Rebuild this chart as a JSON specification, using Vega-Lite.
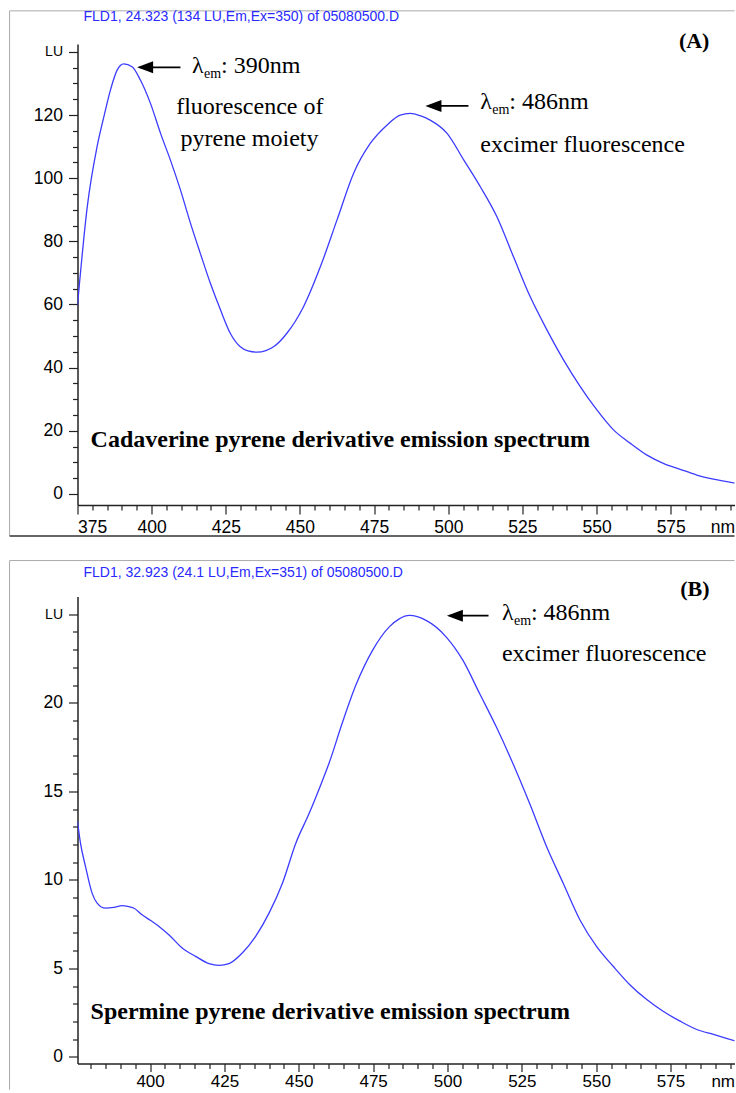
{
  "$schema": "https://vega.github.io/schema/vega-lite/v6.json",
  "padding": {"left": 8.5, "top": 10, "right": 0, "bottom": 0},
  "autosize": {"type": "pad"},
  "background": "white",
  "spacing": 22.5,
  "config": {
    "view": {"stroke": null},
    "axis": {"grid": false, "domainColor": "#222", "domainWidth": 1.5, "tickColor": "#222", "tickWidth": 1.2, "tickCount": 500,
      "labelFont": "Liberation Sans", "labelColor": "#000", "labelFontSize": 17.5,
      "titleFont": "Liberation Sans", "titleFontWeight": "normal", "titleColor": "#000", "titleFontSize": 17.5}
  },
  "datasets": {
    "A": [
      {"nm": 375, "lu": 59.8}, {"nm": 378.3, "lu": 91.0}, {"nm": 381.6, "lu": 110.0}, {"nm": 383.9, "lu": 119.5},
      {"nm": 386.1, "lu": 127.9}, {"nm": 388.4, "lu": 134.3}, {"nm": 390.6, "lu": 136.2}, {"nm": 393.4, "lu": 135.3},
      {"nm": 396.2, "lu": 131.1}, {"nm": 399.6, "lu": 123.7}, {"nm": 403.0, "lu": 114.2}, {"nm": 406.3, "lu": 105.8},
      {"nm": 409.7, "lu": 96.3}, {"nm": 413.1, "lu": 85.7}, {"nm": 416.4, "lu": 76.2}, {"nm": 419.8, "lu": 66.7},
      {"nm": 423.2, "lu": 58.3}, {"nm": 426.5, "lu": 50.9}, {"nm": 429.9, "lu": 46.6}, {"nm": 432.5, "lu": 45.3},
      {"nm": 435.5, "lu": 44.9}, {"nm": 438.5, "lu": 45.4}, {"nm": 441.1, "lu": 46.6}, {"nm": 445.6, "lu": 50.9},
      {"nm": 451.2, "lu": 59.3}, {"nm": 456.9, "lu": 72.0}, {"nm": 462.5, "lu": 86.8}, {"nm": 468.1, "lu": 101.6},
      {"nm": 473.7, "lu": 111.0}, {"nm": 479.3, "lu": 116.8}, {"nm": 483.8, "lu": 120.0}, {"nm": 487.2, "lu": 120.5},
      {"nm": 490.5, "lu": 119.8}, {"nm": 493.9, "lu": 118.4}, {"nm": 499.6, "lu": 114.2}, {"nm": 505.2, "lu": 105.8},
      {"nm": 510.8, "lu": 97.3}, {"nm": 516.4, "lu": 87.8}, {"nm": 522.0, "lu": 75.1}, {"nm": 527.6, "lu": 62.5},
      {"nm": 533.3, "lu": 51.9}, {"nm": 538.9, "lu": 42.4}, {"nm": 544.5, "lu": 34.0}, {"nm": 550.1, "lu": 26.6},
      {"nm": 555.7, "lu": 20.3}, {"nm": 561.3, "lu": 16.1}, {"nm": 567.0, "lu": 12.3}, {"nm": 572.5, "lu": 9.7},
      {"nm": 578.2, "lu": 7.8}, {"nm": 583.8, "lu": 6.0}, {"nm": 589.4, "lu": 4.7}, {"nm": 597.0, "lu": 3.4}
    ],
    "B": [
      {"nm": 375.6, "lu": 13.3}, {"nm": 376.6, "lu": 12.07}, {"nm": 378.3, "lu": 10.75}, {"nm": 380.5, "lu": 9.25},
      {"nm": 382.2, "lu": 8.69}, {"nm": 385.0, "lu": 8.4}, {"nm": 387.8, "lu": 8.44}, {"nm": 390.6, "lu": 8.54},
      {"nm": 392.5, "lu": 8.5}, {"nm": 394.5, "lu": 8.41}, {"nm": 397.3, "lu": 8.03}, {"nm": 400.2, "lu": 7.7},
      {"nm": 403.0, "lu": 7.37}, {"nm": 406.3, "lu": 6.9}, {"nm": 410.8, "lu": 6.15}, {"nm": 415.3, "lu": 5.68},
      {"nm": 419.8, "lu": 5.27}, {"nm": 423.2, "lu": 5.17}, {"nm": 426.5, "lu": 5.27}, {"nm": 431.0, "lu": 5.87},
      {"nm": 435.5, "lu": 6.81}, {"nm": 440.0, "lu": 8.12}, {"nm": 444.5, "lu": 9.81}, {"nm": 449.0, "lu": 12.07},
      {"nm": 453.5, "lu": 13.76}, {"nm": 458.0, "lu": 15.63}, {"nm": 460.2, "lu": 16.6}, {"nm": 464.7, "lu": 18.9},
      {"nm": 469.2, "lu": 21.0}, {"nm": 474.8, "lu": 22.96}, {"nm": 480.5, "lu": 24.3}, {"nm": 483.8, "lu": 24.74},
      {"nm": 487.2, "lu": 24.93}, {"nm": 492.8, "lu": 24.65}, {"nm": 499.6, "lu": 23.71}, {"nm": 505.2, "lu": 22.39},
      {"nm": 510.8, "lu": 20.52}, {"nm": 516.4, "lu": 18.64}, {"nm": 522.0, "lu": 16.57}, {"nm": 527.6, "lu": 14.32},
      {"nm": 533.3, "lu": 11.88}, {"nm": 538.9, "lu": 9.81}, {"nm": 544.5, "lu": 7.75}, {"nm": 550.1, "lu": 6.24},
      {"nm": 555.7, "lu": 5.12}, {"nm": 561.3, "lu": 4.08}, {"nm": 567.0, "lu": 3.24}, {"nm": 572.5, "lu": 2.58},
      {"nm": 578.2, "lu": 2.02}, {"nm": 583.8, "lu": 1.55}, {"nm": 589.4, "lu": 1.27}, {"nm": 597.0, "lu": 0.89}
    ]
  },
  "vconcat": [
    {
      "width": 657,
      "height": 461,
      "layer": [
        {
          "data": {"name": "A"},
          "mark": {"type": "line", "color": "#3c3cff", "strokeWidth": 1.3, "clip": true, "interpolate": "monotone"},
          "encoding": {
            "x": {"field": "nm", "type": "quantitative",
              "scale": {"domain": [375, 596.5], "nice": false, "zero": false},
              "axis": {"values": [375,380,385,390,395,400,405,410,415,420,425,430,435,440,445,450,455,460,465,470,475,480,485,490,495,500,505,510,515,520,525,530,535,540,545,550,555,560,565,570,575,580,585,590,595],
                "tickCount": 500,
                "format": "d", "labelExpr": "datum.value % 25 == 0 ? datum.label : ''",
                "tickSize": {"condition": {"test": "datum.value % 25 == 0", "value": 9}, "value": 5},
                "labelPadding": 4, "labelOverlap": false,
                "title": "nm", "titleX": 657, "titleY": 13, "titleAlign": "right", "titleBaseline": "top"}},
            "y": {"field": "lu", "type": "quantitative",
              "scale": {"domain": [-3.5, 142.5], "nice": false, "zero": false},
              "axis": {"values": [0,5,10,15,20,25,30,35,40,45,50,55,60,65,70,75,80,85,90,95,100,105,110,115,120,125,130,135,140],
                "tickCount": 500, "format": "d",
                "labelExpr": "datum.value % 20 == 0 ? (datum.value == 140 ? 'LU' : datum.label) : ''",
                "labelFontSize": {"condition": {"test": "datum.value == 140", "value": 14}, "value": 17.5},
                "tickSize": {"condition": {"test": "datum.value % 20 == 0", "value": 9}, "value": 5},
                "labelPadding": 6, "labelOverlap": false, "title": null}}
          }
        },
        {"data": {"values": [{}]}, "mark": {"type": "rule", "color": "#aaaaaa", "strokeWidth": 1},
          "encoding": {"x": {"datum": 352.1}, "x2": {"datum": 596.5}, "y": {"datum": 153.0}}},
        {"data": {"values": [{}]}, "mark": {"type": "rule", "color": "#aaaaaa", "strokeWidth": 1},
          "encoding": {"x": {"datum": 352.1}, "y": {"datum": 153.0}, "y2": {"datum": -13.3}}},
        {"data": {"values": [{}]}, "mark": {"type": "rule", "color": "#666666", "strokeWidth": 2},
          "encoding": {"x": {"datum": 352.1}, "x2": {"datum": 596.5}, "y": {"datum": -13.3}}},
        {"data": {"values": [{}]}, "mark": {"type": "text", "align": "left", "baseline": "middle", "font": "Liberation Sans", "fontSize": 14, "color": "#2a2aff", "text": "FLD1, 24.323 (134 LU,Em,Ex=350) of 05080500.D"},
          "encoding": {"x": {"datum": 377.0}, "y": {"datum": 151.0}}},
        {"data": {"values": [{}]}, "mark": {"type": "text", "align": "center", "baseline": "middle", "font": "Liberation Serif", "fontWeight": "bold", "fontSize": 22, "color": "#000", "text": "(A)"},
          "encoding": {"x": {"datum": 582.9}, "y": {"datum": 143.4}}},
        {"data": {"values": [{}]}, "mark": {"type": "rule", "color": "#000", "strokeWidth": 1.8},
          "encoding": {"x": {"datum": 396.0}, "x2": {"datum": 409.7}, "y": {"datum": 135.1}}},
        {"data": {"values": [{}]}, "mark": {"type": "point", "shape": "M0,0L2,-0.75L2,0.75Z", "size": 256, "filled": true, "color": "#000", "opacity": 1, "strokeWidth": 0},
          "encoding": {"x": {"datum": 395.1}, "y": {"datum": 135.1}}},
        {"data": {"values": [{}]}, "mark": {"type": "text", "align": "left", "baseline": "alphabetic", "font": "Liberation Serif", "fontSize": 24, "color": "#000", "text": "λ"},
          "encoding": {"x": {"datum": 413.6}, "y": {"datum": 133.3}}},
        {"data": {"values": [{}]}, "mark": {"type": "text", "align": "left", "baseline": "alphabetic", "font": "Liberation Serif", "fontSize": 14, "color": "#000", "text": "em", "dx": 12, "dy": 5},
          "encoding": {"x": {"datum": 413.6}, "y": {"datum": 133.3}}},
        {"data": {"values": [{}]}, "mark": {"type": "text", "align": "left", "baseline": "alphabetic", "font": "Liberation Serif", "fontSize": 24, "color": "#000", "text": ": 390nm", "dx": 29},
          "encoding": {"x": {"datum": 413.6}, "y": {"datum": 133.3}}},
        {"data": {"values": [{}]}, "mark": {"type": "text", "align": "center", "baseline": "alphabetic", "font": "Liberation Serif", "fontSize": 24, "color": "#000", "text": "fluorescence of"},
          "encoding": {"x": {"datum": 433.1}, "y": {"datum": 120.3}}},
        {"data": {"values": [{}]}, "mark": {"type": "text", "align": "center", "baseline": "alphabetic", "font": "Liberation Serif", "fontSize": 24, "color": "#000", "text": "pyrene moiety"},
          "encoding": {"x": {"datum": 433.0}, "y": {"datum": 110.2}}},
        {"data": {"values": [{}]}, "mark": {"type": "rule", "color": "#000", "strokeWidth": 1.8},
          "encoding": {"x": {"datum": 493.2}, "x2": {"datum": 506.8}, "y": {"datum": 122.9}}},
        {"data": {"values": [{}]}, "mark": {"type": "point", "shape": "M0,0L2,-0.75L2,0.75Z", "size": 256, "filled": true, "color": "#000", "opacity": 1, "strokeWidth": 0},
          "encoding": {"x": {"datum": 492.3}, "y": {"datum": 122.9}}},
        {"data": {"values": [{}]}, "mark": {"type": "text", "align": "left", "baseline": "alphabetic", "font": "Liberation Serif", "fontSize": 24, "color": "#000", "text": "λ"},
          "encoding": {"x": {"datum": 510.8}, "y": {"datum": 121.8}}},
        {"data": {"values": [{}]}, "mark": {"type": "text", "align": "left", "baseline": "alphabetic", "font": "Liberation Serif", "fontSize": 14, "color": "#000", "text": "em", "dx": 12, "dy": 5},
          "encoding": {"x": {"datum": 510.8}, "y": {"datum": 121.8}}},
        {"data": {"values": [{}]}, "mark": {"type": "text", "align": "left", "baseline": "alphabetic", "font": "Liberation Serif", "fontSize": 24, "color": "#000", "text": ": 486nm", "dx": 29},
          "encoding": {"x": {"datum": 510.8}, "y": {"datum": 121.8}}},
        {"data": {"values": [{}]}, "mark": {"type": "text", "align": "left", "baseline": "alphabetic", "font": "Liberation Serif", "fontSize": 24, "color": "#000", "text": "excimer fluorescence"},
          "encoding": {"x": {"datum": 510.8}, "y": {"datum": 108.4}}},
        {"data": {"values": [{}]}, "mark": {"type": "text", "align": "left", "baseline": "middle", "font": "Liberation Serif", "fontWeight": "bold", "fontSize": 24, "color": "#000", "text": "Cadaverine pyrene derivative emission spectrum"},
          "encoding": {"x": {"datum": 379.4}, "y": {"datum": 17.1}}}
      ]
    },
    {
      "width": 657,
      "height": 467,
      "layer": [
        {
          "data": {"name": "B"},
          "mark": {"type": "line", "color": "#3c3cff", "strokeWidth": 1.3, "clip": true, "interpolate": "monotone"},
          "encoding": {
            "x": {"field": "nm", "type": "quantitative",
              "scale": {"domain": [375.6, 596.5], "nice": false, "zero": false},
              "axis": {"values": [380,385,390,395,400,405,410,415,420,425,430,435,440,445,450,455,460,465,470,475,480,485,490,495,500,505,510,515,520,525,530,535,540,545,550,555,560,565,570,575,580,585,590,595],
                "tickCount": 500,
                "format": "d", "labelExpr": "datum.value % 25 == 0 ? datum.label : ''",
                "tickSize": {"condition": {"test": "datum.value % 25 == 0", "value": 8}, "value": 5},
                "labelPadding": 2, "labelFontSize": 17, "labelOverlap": false,
                "title": "nm", "titleFontSize": 17, "titleX": 657, "titleY": 10, "titleAlign": "right", "titleBaseline": "top"}},
            "y": {"field": "lu", "type": "quantitative",
              "scale": {"domain": [-0.37, 26.0], "nice": false, "zero": false},
              "axis": {"values": [0,1,2,3,4,5,6,7,8,9,10,11,12,13,14,15,16,17,18,19,20,21,22,23,24,25],
                "tickCount": 500, "format": "d",
                "labelExpr": "datum.value % 5 == 0 ? (datum.value == 25 ? 'LU' : datum.label) : ''",
                "labelFontSize": {"condition": {"test": "datum.value == 25", "value": 14}, "value": 17.5},
                "tickSize": {"condition": {"test": "datum.value % 5 == 0", "value": 9}, "value": 5},
                "labelPadding": 6, "labelOverlap": false, "title": null}}
          }
        },
        {"data": {"values": [{}]}, "mark": {"type": "rule", "color": "#aaaaaa", "strokeWidth": 1},
          "encoding": {"x": {"datum": 352.75}, "x2": {"datum": 596.5}, "y": {"datum": 28.03}}},
        {"data": {"values": [{}]}, "mark": {"type": "rule", "color": "#aaaaaa", "strokeWidth": 1},
          "encoding": {"x": {"datum": 352.75}, "y": {"datum": 28.03}, "y2": {"datum": -1.85}}},
        {"data": {"values": [{}]}, "mark": {"type": "text", "align": "left", "baseline": "middle", "font": "Liberation Sans", "fontSize": 14, "color": "#2a2aff", "text": "FLD1, 32.923 (24.1 LU,Em,Ex=351) of 05080500.D"},
          "encoding": {"x": {"datum": 377.6}, "y": {"datum": 27.3}}},
        {"data": {"values": [{}]}, "mark": {"type": "text", "align": "center", "baseline": "middle", "font": "Liberation Serif", "fontWeight": "bold", "fontSize": 22, "color": "#000", "text": "(B)"},
          "encoding": {"x": {"datum": 583.2}, "y": {"datum": 26.4}}},
        {"data": {"values": [{}]}, "mark": {"type": "rule", "color": "#000", "strokeWidth": 1.8},
          "encoding": {"x": {"datum": 500.7}, "x2": {"datum": 513.8}, "y": {"datum": 24.92}}},
        {"data": {"values": [{}]}, "mark": {"type": "point", "shape": "M0,0L2,-0.75L2,0.75Z", "size": 256, "filled": true, "color": "#000", "opacity": 1, "strokeWidth": 0},
          "encoding": {"x": {"datum": 499.8}, "y": {"datum": 24.92}}},
        {"data": {"values": [{}]}, "mark": {"type": "text", "align": "left", "baseline": "alphabetic", "font": "Liberation Serif", "fontSize": 24, "color": "#000", "text": "λ"},
          "encoding": {"x": {"datum": 518.3}, "y": {"datum": 24.68}}},
        {"data": {"values": [{}]}, "mark": {"type": "text", "align": "left", "baseline": "alphabetic", "font": "Liberation Serif", "fontSize": 14, "color": "#000", "text": "em", "dx": 12, "dy": 5},
          "encoding": {"x": {"datum": 518.3}, "y": {"datum": 24.68}}},
        {"data": {"values": [{}]}, "mark": {"type": "text", "align": "left", "baseline": "alphabetic", "font": "Liberation Serif", "fontSize": 24, "color": "#000", "text": ": 486nm", "dx": 29},
          "encoding": {"x": {"datum": 518.3}, "y": {"datum": 24.68}}},
        {"data": {"values": [{}]}, "mark": {"type": "text", "align": "left", "baseline": "alphabetic", "font": "Liberation Serif", "fontSize": 24, "color": "#000", "text": "excimer fluorescence"},
          "encoding": {"x": {"datum": 518.3}, "y": {"datum": 22.33}}},
        {"data": {"values": [{}]}, "mark": {"type": "text", "align": "left", "baseline": "middle", "font": "Liberation Serif", "fontWeight": "bold", "fontSize": 24, "color": "#000", "text": "Spermine pyrene derivative emission spectrum"},
          "encoding": {"x": {"datum": 380.0}, "y": {"datum": 2.51}}}
      ]
    }
  ]
}
